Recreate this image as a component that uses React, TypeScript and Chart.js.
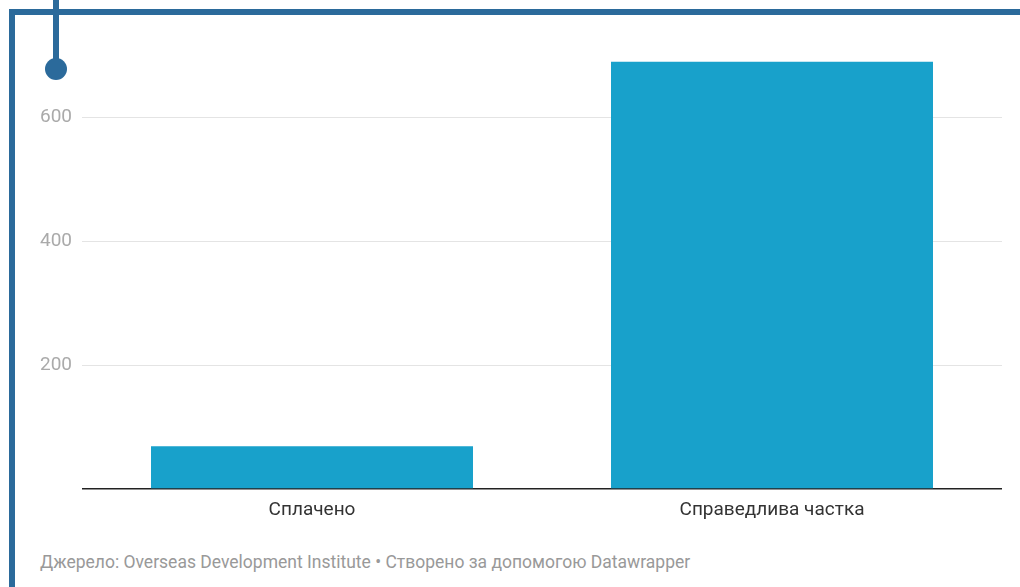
import React, { useEffect, useRef } from "react";
import { Chart, registerables } from "chart.js";

Chart.register(...registerables);

const categories: string[] = ["Сплачено", "Справедлива частка"];
const values: number[] = [69, 689];
const yTicks: number[] = [0, 200, 400, 600];
const footerText = "Джерело: Overseas Development Institute • Створено за допомогою Datawrapper";

const FRAME = "#2b6a9b";
const BAR = "#18a1cb";

export default function App() {
  const ref = useRef<HTMLCanvasElement | null>(null);

  useEffect(() => {
    if (!ref.current) return;
    const chart = new Chart(ref.current, {
      type: "bar",
      data: {
        labels: categories,
        datasets: [
          {
            data: values,
            backgroundColor: BAR,
            borderWidth: 0,
            categoryPercentage: 0.7,
            barPercentage: 1,
          },
        ],
      },
      options: {
        animation: false,
        responsive: false,
        maintainAspectRatio: false,
        layout: { padding: { left: 0, right: 18, top: 55, bottom: 0 } },
        plugins: {
          legend: { display: false },
          tooltip: { enabled: false },
        },
        scales: {
          x: {
            grid: { display: false, drawTicks: false },
            border: { display: false },
            afterFit: (axis: any) => {
              axis.height = 41;
            },
            ticks: {
              color: "#333",
              font: { family: "Roboto", size: 19 },
              padding: 10,
            },
          },
          y: {
            min: 0,
            max: 700,
            afterBuildTicks: (axis: any) => {
              axis.ticks = yTicks.map((v) => ({ value: v }));
            },
            afterFit: (axis: any) => {
              axis.width = 82;
            },
            grid: {
              drawTicks: false,
              color: (ctx: any) => (ctx.tick && ctx.tick.value === 0 ? "#222" : "#e4e4e4"),
              lineWidth: (ctx: any) => (ctx.tick && ctx.tick.value === 0 ? 1.5 : 1),
            },
            border: { display: false },
            ticks: {
              color: "#aaa",
              font: { family: "Roboto", size: 19 },
              padding: 10,
              callback: (v: any) => (v === 0 ? "" : String(v)),
            },
          },
        },
      },
    });
    return () => chart.destroy();
  }, []);

  return (
    <div
      style={{
        position: "fixed",
        left: 0,
        top: 0,
        width: 1020,
        height: 587,
        background: "#fff",
        overflow: "hidden",
      }}
    >
      <canvas
        ref={ref}
        width={1020}
        height={530}
        style={{ position: "absolute", left: 0, top: 0, width: 1020, height: 530 }}
      />
      <div style={{ position: "absolute", left: 9, top: 9, width: 6, height: 600, background: FRAME }} />
      <div style={{ position: "absolute", left: 9, top: 9, width: 1020, height: 6, background: FRAME }} />
      <div style={{ position: "absolute", left: 53, top: 0, width: 6, height: 69, background: FRAME }} />
      <div
        style={{
          position: "absolute",
          left: 45,
          top: 58,
          width: 22,
          height: 22,
          borderRadius: "50%",
          background: FRAME,
        }}
      />
      <div
        style={{
          position: "absolute",
          left: 40,
          top: 552,
          fontFamily: "Roboto",
          fontSize: 17.5,
          color: "#999",
          whiteSpace: "nowrap",
        }}
      >
        {footerText}
      </div>
    </div>
  );
}
